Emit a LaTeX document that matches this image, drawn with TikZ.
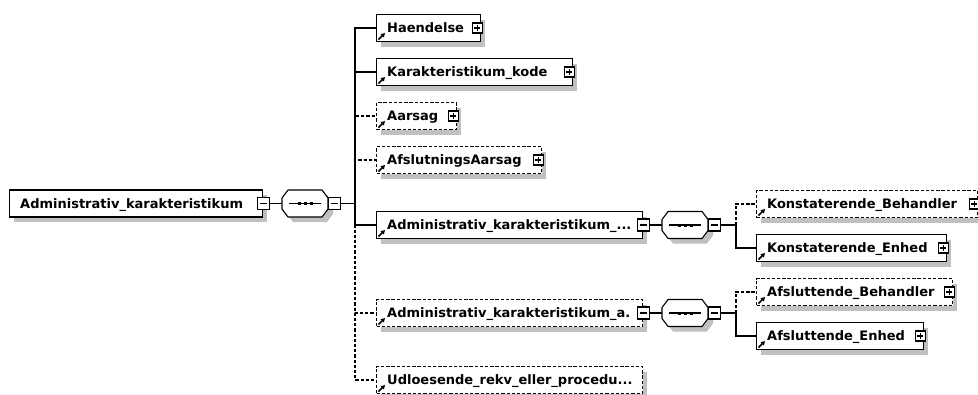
\documentclass[tikz,border=0pt]{standalone}
\usepackage{fontspec}
\setmainfont{DejaVu Sans}
\usetikzlibrary{arrows.meta}
\definecolor{shadowgray}{RGB}{192,192,192}
\tikzset{
  conn/.style={line width=1.1pt, draw=black},
  optline/.style={dash pattern=on 3.3pt off 1.9pt},
  elem/.style={draw, fill=white, line width=1.1pt, minimum height=27pt, inner sep=0pt},
  lbl/.style={font=\bfseries\fontsize{13}{15}\selectfont, inner sep=0pt, text=black},
  minusbox/.style={draw, fill=white, line width=1.1pt, minimum size=12pt, inner sep=0pt,
    path picture={\draw[line width=1.1pt] ([xshift=2.5pt]path picture bounding box.west) -- ([xshift=-2.5pt]path picture bounding box.east);}},
  plusbox/.style={draw, fill=white, line width=1.1pt, minimum size=10pt, inner sep=0pt,
    path picture={\draw[line width=1.1pt] ([xshift=2pt]path picture bounding box.west) -- ([xshift=-2pt]path picture bounding box.east);
                  \draw[line width=1.1pt] ([yshift=-2pt]path picture bounding box.north) -- ([yshift=2pt]path picture bounding box.south);}},
  refarrow/.style={line width=1.6pt, -{Triangle[length=4pt,width=4.5pt]}},
  octbox/.style={minimum width=46pt, minimum height=27pt, inner sep=0pt},
}
% #1 name, #2 left x, #3 centre y, #4 width, #5 extra style, #6 text, #7 sign node options
\newcommand\xelem[7]{%
  \fill[shadowgray] (#2+5,#3-8.5) rectangle ++(#4,27);
  \node[elem,#5,minimum width=#4pt,anchor=west] (#1) at (#2,#3) {};
  \draw[refarrow] ([shift={(2.5,-2.5)}]#1.south west) -- ++(6.5,-6.5);
  \node[lbl,anchor=base west] (#1T) at ([shift={(11,4.5)}]#1.west) {#6};
  \node[#7] (#1S) at (#1.east) {};
}
% #1 name, #2 left x, #3 centre y
\newcommand\seqoct[3]{%
  \fill[shadowgray,shift={(5,5)}] (#2,#3-5.5) -- (#2+6,#3-13.5) -- (#2+40,#3-13.5) -- (#2+46,#3-5.5) -- (#2+46,#3+5.5) -- (#2+40,#3+13.5) -- (#2+6,#3+13.5) -- (#2,#3+5.5) -- cycle;
  \node[octbox] (#1) at (#2+23,#3) {};
  \draw[line width=1.1pt,fill=white] (#2,#3-5.5) -- (#2+6,#3-13.5) -- (#2+40,#3-13.5) -- (#2+46,#3-5.5) -- (#2+46,#3+5.5) -- (#2+40,#3+13.5) -- (#2+6,#3+13.5) -- (#2,#3+5.5) -- cycle;
  \draw[line width=1.1pt] ([xshift=7pt]#1.west) -- ([xshift=-7pt]#1.east);
  \foreach \dd in {17,23,29} \fill (#2+\dd-1.5,#3-1.5) rectangle ++(3,3);
  \node[minusbox,anchor=west] (#1M) at (#1.east) {};
}
\begin{document}
\begin{tikzpicture}[x=1pt,y=-1pt]
\useasboundingbox (0,0) rectangle (978,394);
% root
\fill[shadowgray] (14,195) rectangle (267,222);
\node[elem, minimum width=253pt, anchor=west] (root) at (9,203.5) {};
\node[lbl, anchor=base west] (rootT) at ([shift={(11,4.5)}]root.west) {Administrativ\_karakteristikum};
\node[minusbox] (rootS) at (root.east) {};
% sequences
\seqoct{seq1}{282}{203.5}
\seqoct{seq2}{662}{225}
\seqoct{seq3}{662}{313}
% children of the main sequence
\xelem{haend}{376}{28}{104}{}{Haendelse}{{plusbox,xshift=-4pt}}
\xelem{karak}{376}{72}{196}{}{Karakteristikum\_kode}{{plusbox,xshift=-4pt}}
\xelem{aarsag}{376}{116}{80}{optline}{Aarsag}{{plusbox,xshift=-4pt}}
\xelem{afslA}{376}{160}{165}{optline}{AfslutningsAarsag}{{plusbox,xshift=-4pt}}
\xelem{admK}{376}{225}{266}{}{Administrativ\_karakteristikum\_...}{minusbox}
\xelem{admA}{376}{313}{266}{optline}{Administrativ\_karakteristikum\_a.}{minusbox}
\xelem{udl}{376}{380}{266}{optline}{Udloesende\_rekv\_eller\_procedu...}{coordinate}
% children of the sub sequences
\xelem{konB}{756}{204}{221}{optline}{Konstaterende\_Behandler}{{plusbox,xshift=-4pt}}
\xelem{konE}{756}{248}{190}{}{Konstaterende\_Enhed}{{plusbox,xshift=-4pt}}
\xelem{afsB}{756}{292}{196}{optline}{Afsluttende\_Behandler}{{plusbox,xshift=-4pt}}
\xelem{afsE}{756}{336}{167}{}{Afsluttende\_Enhed}{{plusbox,xshift=-4pt}}
% buses
\coordinate (bus1) at (355,203.5);
\coordinate (bus2) at (736,225);
\coordinate (bus3) at (736,313);
% connectors
\draw[conn] (rootS.east) -- (seq1.west);
\draw[conn] (seq1M.east) -- (bus1);
\draw[conn,optline] (bus1) |- (aarsag.west);
\draw[conn,optline] (bus1) |- (afslA.west);
\draw[conn,optline] (bus1) |- (admA.west);
\draw[conn,optline] (bus1) |- (udl.west);
\draw[conn] (bus1) |- (haend.west);
\draw[conn] (bus1) |- (karak.west);
\draw[conn] (bus1) |- (admK.west);
\draw[conn] (admKS.east) -- (seq2.west);
\draw[conn] (seq2M.east) -- (bus2);
\draw[conn,optline] (bus2) |- (konB.west);
\draw[conn] (bus2) |- (konE.west);
\draw[conn] (admAS.east) -- (seq3.west);
\draw[conn] (seq3M.east) -- (bus3);
\draw[conn,optline] (bus3) |- (afsB.west);
\draw[conn] (bus3) |- (afsE.west);
\end{tikzpicture}
\end{document}
